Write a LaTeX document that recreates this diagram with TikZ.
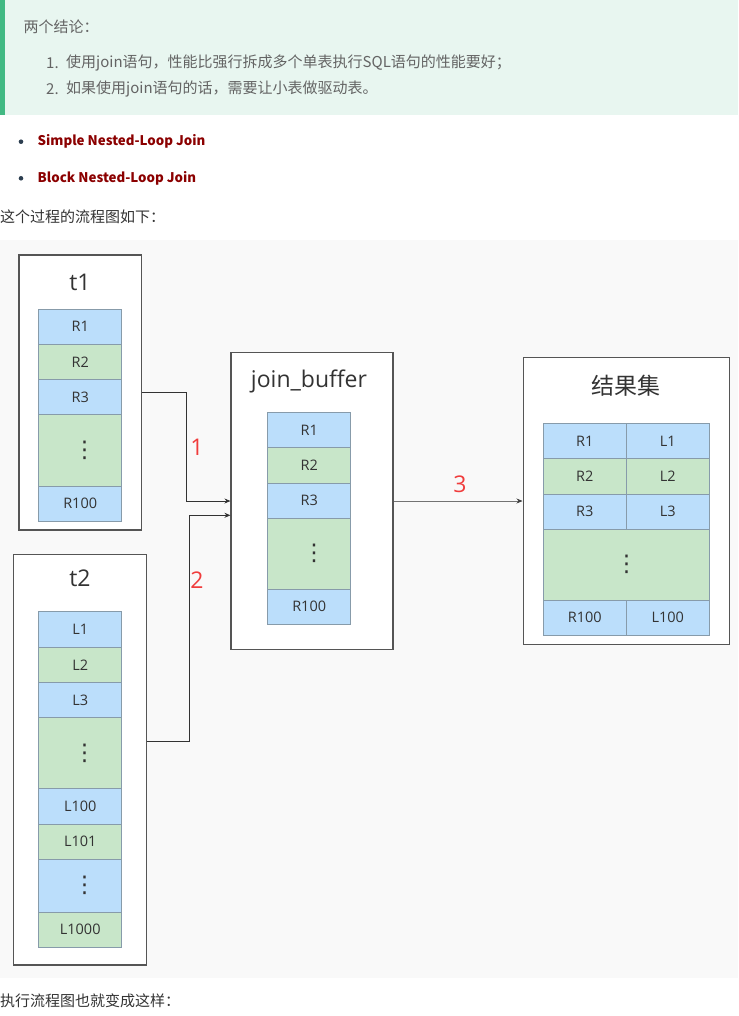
\documentclass[tikz,border=0pt]{standalone}
\usepackage{fontspec}
\setmainfont{Noto Sans CJK SC}
\newfontfamily\osans{Open Sans}
\newfontfamily\djv{DejaVu Sans}
\usetikzlibrary{arrows.meta}
\definecolor{tipbg}{RGB}{232,246,240}
\definecolor{tipbar}{RGB}{66,185,131}
\definecolor{tiptxt}{RGB}{100,100,100}
\definecolor{darkred}{RGB}{139,0,0}
\definecolor{bulletc}{RGB}{44,62,80}
\definecolor{bodytxt}{RGB}{51,51,51}
\definecolor{diagbg}{RGB}{249,249,249}
\definecolor{cblue}{RGB}{187,222,251}
\definecolor{cgreen}{RGB}{200,230,201}
\definecolor{cellline}{RGB}{135,155,170}
\definecolor{boxline}{RGB}{85,85,85}
\definecolor{numred}{RGB}{240,60,60}
\definecolor{celltxt}{RGB}{51,51,51}
\tikzset{
  tbox/.style={draw=boxline,line width=1.1pt,fill=white,inner sep=0pt},
  cellbase/.style={draw=cellline,line width=0.7pt,inner sep=0pt,minimum width=83pt,font=\osans\fontsize{14.5}{16}\selectfont,text=celltxt},
  bcell/.style={cellbase,fill=cblue},
  gcell/.style={cellbase,fill=cgreen},
  vdotsn/.style={font=\djv\fontsize{23}{25}\selectfont,text=black!80,inner sep=0pt},
  ttl/.style={font=\osans\fontsize{23}{26}\selectfont,text=black!80,inner sep=0pt},
  numlbl/.style={font=\osans\fontsize{23}{26}\selectfont,text=numred,inner sep=0pt},
  conn/.style={draw=black!80,line width=0.9pt,-{Stealth[length=6pt,width=5pt]}},
  conn3/.style={draw=black!55,line width=0.7pt,-{Stealth[length=6pt,width=5pt,black!75]}},
  para/.style={anchor=west,inner sep=0pt,font=\fontsize{15}{17}\selectfont},
  boldp/.style={para,text=darkred,font=\bfseries\fontsize{13.3}{16}\selectfont},
}
\begin{document}
\begin{tikzpicture}[x=1pt,y=-1pt]
\useasboundingbox (0,0) rectangle (738,1016);
% callout
\fill[tipbg] (0,0) rectangle (738,115);
\fill[tipbar] (0,0) rectangle (5,115);
\node[para,text=tiptxt] (h) at (23.3,26.7) {两个结论：};
\node[para,text=tiptxt] (n1) at (46,63.3) {1.};
\node[para,text=tiptxt] (i1) at (66,63.3) {使用join语句，性能比强行拆成多个单表执行SQL语句的性能要好；};
\node[para,text=tiptxt] (n2) at (46,89.3) {2.};
\node[para,text=tiptxt] (i2) at (66,89.3) {如果使用join语句的话，需要让小表做驱动表。};
% bullets
\fill[bulletc] (21,141.7) circle (2.3);
\node[boldp] (b1) at (37.5,141.7) {Simple Nested-Loop Join};
\fill[bulletc] (21,178.3) circle (2.3);
\node[boldp] (b2) at (37.5,178.3) {Block Nested-Loop Join};
\node[para,text=bodytxt] (p1) at (0,216.5) {这个过程的流程图如下：};
% diagram background
\fill[diagbg] (0,240) rectangle (738,978);
% outer boxes
\node[tbox,minimum width=122.7pt,minimum height=275pt] (t1) at (80.3,392.5) {};
\node[tbox,minimum width=133pt,minimum height=410.3pt] (t2) at (80.2,759.8) {};
\node[tbox,minimum width=162pt,minimum height=296.6pt] (jb) at (312,501) {};
\node[tbox,minimum width=206.3pt,minimum height=287.4pt] (res) at (626.2,501) {};
% titles
\node[ttl] (t1t) at (80,282) {t1};
\node[ttl] (t2t) at (80,578) {t2};
\node[ttl] (jbt) at (309,381) {join\_buffer};
\node[ttl,font=\fontsize{23}{26}\selectfont] (rest) at (626,386) {结果集};
% t1 cells
\node[bcell,minimum height=35.3pt] (a1) at (80.2,326.7) {R1};
\node[gcell,minimum height=35.2pt] (a2) at (80.2,362) {R2};
\node[bcell,minimum height=35.2pt] (a3) at (80.2,397.1) {R3};
\node[gcell,minimum height=71.3pt] (a4) at (80.2,450.3) {};
\node[vdotsn] (a4d) at (84.5,450.3) {⋮};
\node[bcell,minimum height=35pt] (a5) at (80.2,503.5) {R100};
% join buffer cells
\node[bcell,minimum height=35.4pt] (j1) at (309.2,430) {R1};
\node[gcell,minimum height=35.6pt] (j2) at (309.2,465.5) {R2};
\node[bcell,minimum height=35pt] (j3) at (309.2,500.8) {R3};
\node[gcell,minimum height=71pt] (j4) at (309.2,553.8) {};
\node[vdotsn] (j4d) at (314,553.8) {⋮};
\node[bcell,minimum height=35pt] (j5) at (309.2,606.8) {R100};
% result cells
\node[bcell,minimum height=35.4pt,minimum width=83.3pt] (r1a) at (584.7,441) {R1};
\node[bcell,minimum height=35.4pt] (r1b) at (667.8,441) {L1};
\node[gcell,minimum height=35.3pt,minimum width=83.3pt] (r2a) at (584.7,476.3) {R2};
\node[gcell,minimum height=35.3pt] (r2b) at (667.8,476.3) {L2};
\node[bcell,minimum height=35.3pt,minimum width=83.3pt] (r3a) at (584.7,511.7) {R3};
\node[bcell,minimum height=35.3pt] (r3b) at (667.8,511.7) {L3};
\node[gcell,minimum height=70.7pt,minimum width=166.3pt] (r4) at (626.2,564.7) {};
\node[vdotsn] (r4d) at (626.7,564.7) {⋮};
\node[bcell,minimum height=35.3pt,minimum width=83.3pt] (r5a) at (584.7,617.7) {R100};
\node[bcell,minimum height=35.3pt] (r5b) at (667.8,617.7) {L100};
% t2 cells
\node[bcell,minimum height=36pt] (l1) at (80.2,629.3) {L1};
\node[gcell,minimum height=35.4pt] (l2) at (80.2,665) {L2};
\node[bcell,minimum height=35pt] (l3) at (80.2,700.2) {L3};
\node[gcell,minimum height=71pt] (l4) at (80.2,753.2) {};
\node[vdotsn] (l4d) at (84.5,753.2) {⋮};
\node[bcell,minimum height=35.6pt] (l5) at (80.2,806.5) {L100};
\node[gcell,minimum height=35pt] (l6) at (80.2,841.8) {L101};
\node[bcell,minimum height=53pt] (l7) at (80.2,885.8) {};
\node[vdotsn] (l7d) at (84.5,885.8) {⋮};
\node[gcell,minimum height=35pt] (l8) at (80.2,929.8) {L1000};
% connectors
\draw[conn] (t1.east) -- ++(44.3,0) |- (jb.west);
\draw[conn] ([yshift=18.5pt]t2.east) -- ++(42,0) |- ([yshift=-14.3pt]jb.west);
\draw[conn3] (jb.east) -- (res.west);
\node[numlbl] (k1) at (197,447) {1};
\node[numlbl] (k2) at (197,580) {2};
\node[numlbl] (k3) at (460,484) {3};
\node[para,text=bodytxt] (p2) at (0,1001) {执行流程图也就变成这样：};
\end{tikzpicture}
\end{document}
